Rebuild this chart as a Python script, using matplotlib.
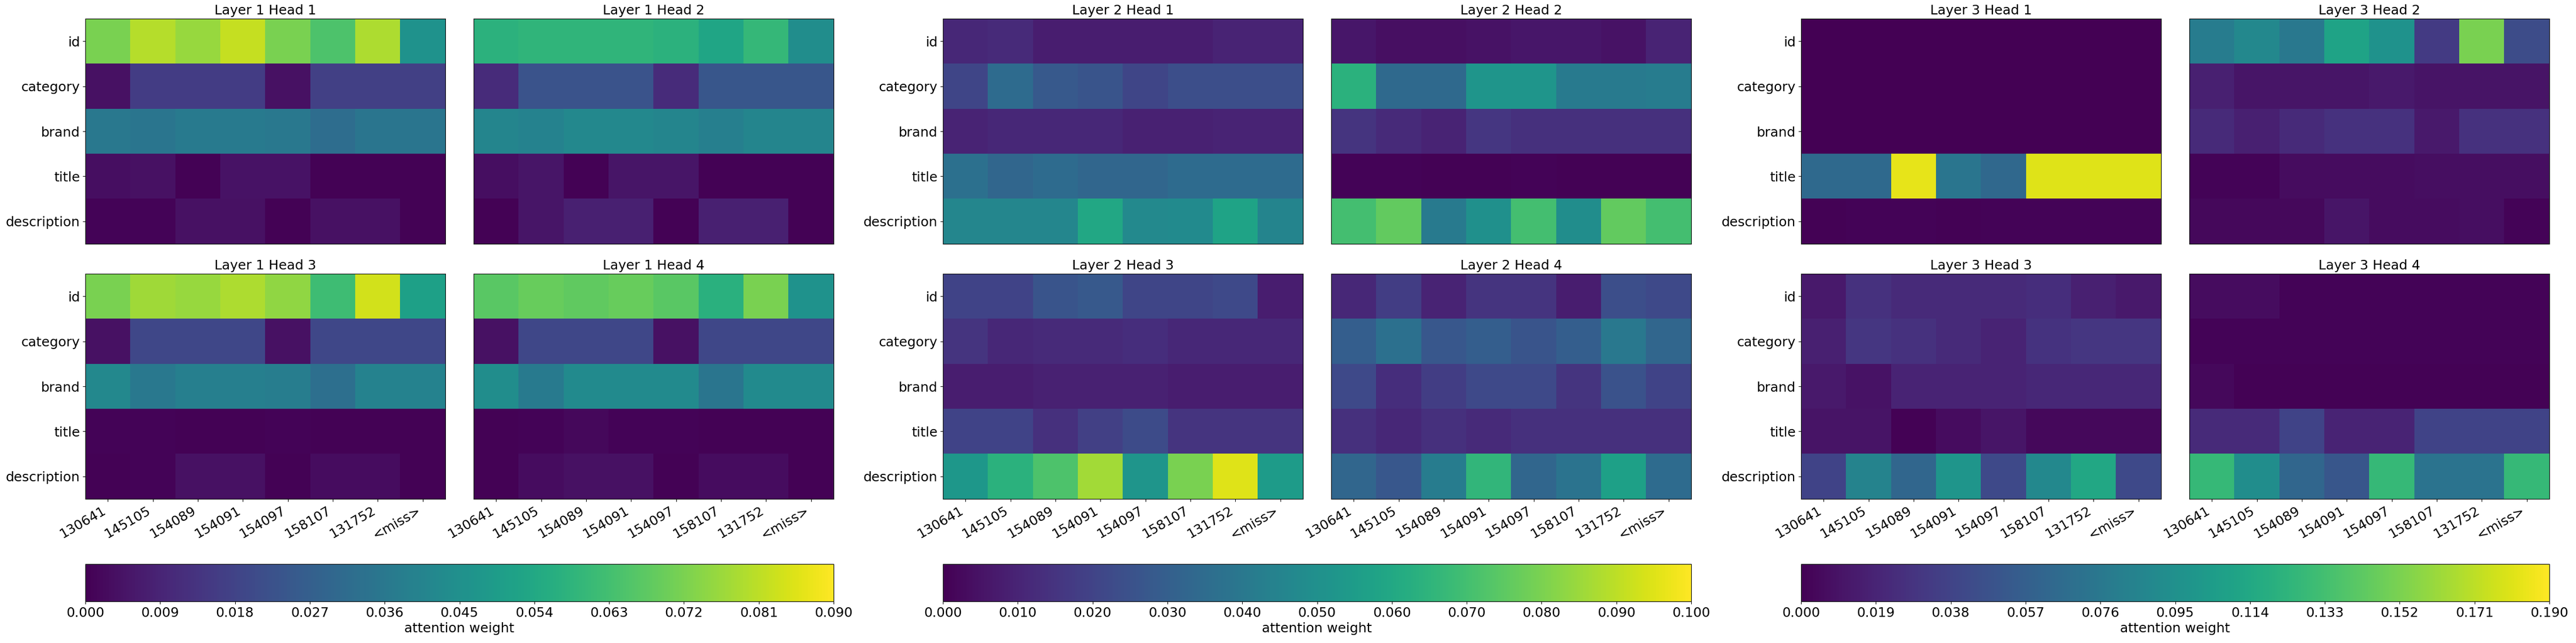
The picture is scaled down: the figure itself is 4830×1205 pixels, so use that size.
import numpy as np
import matplotlib
matplotlib.use("Agg")
import matplotlib.pyplot as plt

fields = ["id", "category", "brand", "title", "description"]
items = ["130641", "145105", "154089", "154091", "154097", "158107", "131752", "<miss>"]

# attention weights, rows = fields, cols = items
layer1_head1 = [
    [0.072, 0.080, 0.076, 0.082, 0.072, 0.065, 0.079, 0.046],
    [0.004, 0.016, 0.016, 0.016, 0.004, 0.017, 0.017, 0.017],
    [0.036, 0.035, 0.037, 0.037, 0.036, 0.032, 0.035, 0.035],
    [0.0035, 0.004, 0.0005, 0.0045, 0.0045, 0.0005, 0.0005, 0.0005],
    [0.001, 0.001, 0.004, 0.004, 0.0005, 0.004, 0.004, 0.0005],
]
layer1_head2 = [
    [0.058, 0.059, 0.059, 0.059, 0.058, 0.053, 0.060, 0.044],
    [0.011, 0.023, 0.023, 0.023, 0.011, 0.024, 0.024, 0.024],
    [0.041, 0.040, 0.042, 0.042, 0.041, 0.039, 0.041, 0.041],
    [0.0035, 0.005, 0.0005, 0.005, 0.005, 0.0005, 0.0005, 0.0005],
    [0.0005, 0.005, 0.008, 0.008, 0.0005, 0.008, 0.008, 0.0005],
]
layer1_head3 = [
    [0.072, 0.077, 0.076, 0.079, 0.075, 0.062, 0.084, 0.051],
    [0.004, 0.019, 0.019, 0.019, 0.004, 0.019, 0.019, 0.019],
    [0.042, 0.036, 0.039, 0.039, 0.038, 0.033, 0.040, 0.040],
    [0.0008, 0.0008, 0.0005, 0.0005, 0.001, 0.0005, 0.0005, 0.0005],
    [0.0005, 0.001, 0.004, 0.004, 0.0005, 0.003, 0.003, 0.0005],
]
layer1_head4 = [
    [0.067, 0.069, 0.068, 0.069, 0.067, 0.057, 0.072, 0.046],
    [0.004, 0.019, 0.019, 0.019, 0.004, 0.019, 0.019, 0.019],
    [0.044, 0.037, 0.043, 0.043, 0.043, 0.035, 0.043, 0.043],
    [0.0005, 0.001, 0.002, 0.001, 0.001, 0.0005, 0.0005, 0.0005],
    [0.0005, 0.003, 0.004, 0.004, 0.0005, 0.003, 0.003, 0.0005],
]

layer2_head1 = [
    [0.011, 0.012, 0.008, 0.008, 0.008, 0.008, 0.010, 0.010],
    [0.021, 0.035, 0.028, 0.026, 0.021, 0.024, 0.024, 0.024],
    [0.010, 0.011, 0.011, 0.011, 0.009, 0.009, 0.010, 0.010],
    [0.037, 0.033, 0.035, 0.033, 0.033, 0.035, 0.035, 0.035],
    [0.046, 0.046, 0.046, 0.060, 0.047, 0.048, 0.058, 0.045],
]
layer2_head2 = [
    [0.006, 0.004, 0.004, 0.005, 0.006, 0.006, 0.005, 0.010],
    [0.064, 0.034, 0.034, 0.052, 0.052, 0.041, 0.041, 0.042],
    [0.015, 0.012, 0.010, 0.016, 0.014, 0.014, 0.014, 0.014],
    [0.001, 0.001, 0.0005, 0.0005, 0.001, 0.0005, 0.0005, 0.0005],
    [0.070, 0.076, 0.041, 0.050, 0.070, 0.049, 0.076, 0.070],
]
layer2_head3 = [
    [0.020, 0.020, 0.026, 0.028, 0.021, 0.021, 0.022, 0.008],
    [0.015, 0.011, 0.012, 0.012, 0.013, 0.011, 0.011, 0.011],
    [0.008, 0.008, 0.009, 0.009, 0.009, 0.008, 0.008, 0.008],
    [0.020, 0.020, 0.014, 0.019, 0.023, 0.015, 0.015, 0.015],
    [0.053, 0.064, 0.072, 0.086, 0.052, 0.080, 0.095, 0.055],
]
layer2_head4 = [
    [0.011, 0.018, 0.010, 0.015, 0.015, 0.008, 0.024, 0.022],
    [0.030, 0.037, 0.027, 0.030, 0.026, 0.030, 0.040, 0.033],
    [0.022, 0.013, 0.018, 0.022, 0.022, 0.015, 0.025, 0.020],
    [0.014, 0.011, 0.014, 0.012, 0.014, 0.014, 0.014, 0.014],
    [0.033, 0.027, 0.042, 0.066, 0.033, 0.038, 0.057, 0.035],
]

layer3_head1 = [
    [0.0005, 0.0005, 0.0005, 0.0005, 0.0005, 0.0005, 0.0005, 0.0005],
    [0.0005, 0.0005, 0.0005, 0.0005, 0.0005, 0.0005, 0.0005, 0.0005],
    [0.0005, 0.0005, 0.0005, 0.0005, 0.0005, 0.0005, 0.0005, 0.0005],
    [0.065, 0.065, 0.183, 0.074, 0.064, 0.181, 0.181, 0.181],
    [0.001, 0.002, 0.002, 0.001, 0.002, 0.002, 0.002, 0.002],
]
layer3_head2 = [
    [0.080, 0.089, 0.076, 0.110, 0.097, 0.032, 0.152, 0.044],
    [0.017, 0.011, 0.011, 0.011, 0.013, 0.010, 0.010, 0.010],
    [0.023, 0.017, 0.023, 0.027, 0.027, 0.013, 0.027, 0.027],
    [0.002, 0.002, 0.006, 0.006, 0.006, 0.007, 0.007, 0.007],
    [0.004, 0.004, 0.004, 0.011, 0.006, 0.006, 0.007, 0.002],
]
layer3_head3 = [
    [0.013, 0.027, 0.023, 0.023, 0.023, 0.025, 0.017, 0.013],
    [0.017, 0.030, 0.027, 0.023, 0.019, 0.028, 0.030, 0.030],
    [0.013, 0.009, 0.019, 0.019, 0.019, 0.021, 0.021, 0.021],
    [0.010, 0.010, 0.001, 0.006, 0.011, 0.004, 0.004, 0.004],
    [0.038, 0.085, 0.063, 0.099, 0.042, 0.089, 0.114, 0.042],
]
layer3_head4 = [
    [0.006, 0.006, 0.002, 0.002, 0.002, 0.002, 0.002, 0.002],
    [0.002, 0.002, 0.002, 0.002, 0.002, 0.002, 0.002, 0.002],
    [0.004, 0.001, 0.001, 0.001, 0.001, 0.001, 0.001, 0.001],
    [0.023, 0.023, 0.038, 0.019, 0.019, 0.038, 0.038, 0.038],
    [0.127, 0.093, 0.063, 0.051, 0.127, 0.072, 0.072, 0.127],
]

layers = [
    [layer1_head1, layer1_head2, layer1_head3, layer1_head4],
    [layer2_head1, layer2_head2, layer2_head3, layer2_head4],
    [layer3_head1, layer3_head2, layer3_head3, layer3_head4],
]
vmaxes = [0.09, 0.10, 0.19]

W, H = 4830, 1205
fig = plt.figure(figsize=(W / 100, H / 100), dpi=100)
fs = 18


def box(x, y, w, h):
    # pixel box (top-left origin) -> figure fraction
    return [x / W, 1 - (y + h) / H, w / W, h / H]


group_x = [0, 1608, 3217]
col_x = [160, 888]
row_y = [35, 513]
ax_w, ax_h = 675, 422

for li, heads in enumerate(layers):
    gx = group_x[li]
    vmax = vmaxes[li]
    im = None
    for hi, mat in enumerate(heads):
        r, c = divmod(hi, 2)
        ax = fig.add_axes(box(gx + col_x[c], row_y[r], ax_w, ax_h))
        im = ax.imshow(np.array(mat), cmap="viridis", vmin=0, vmax=vmax,
                       aspect="auto", interpolation="nearest")
        ax.set_title(f"Layer {li + 1} Head {hi + 1}", fontsize=fs)
        if c == 0:
            ax.set_yticks(range(len(fields)))
            ax.set_yticklabels(fields, fontsize=fs)
        else:
            ax.set_yticks([])
        if r == 1:
            ax.set_xticks(range(len(items)))
            ax.set_xticklabels(items, fontsize=fs, rotation=30, ha="right")
        else:
            ax.set_xticks([])

    cax = fig.add_axes(box(gx + 160, 1057, 1403, 70))
    cb = fig.colorbar(im, cax=cax, orientation="horizontal",
                      ticks=np.linspace(0, vmax, 11), format="%.3f")
    cb.ax.tick_params(labelsize=fs)
    cb.set_label("attention weight", fontsize=fs)

fig.savefig("out.png", dpi=100)
